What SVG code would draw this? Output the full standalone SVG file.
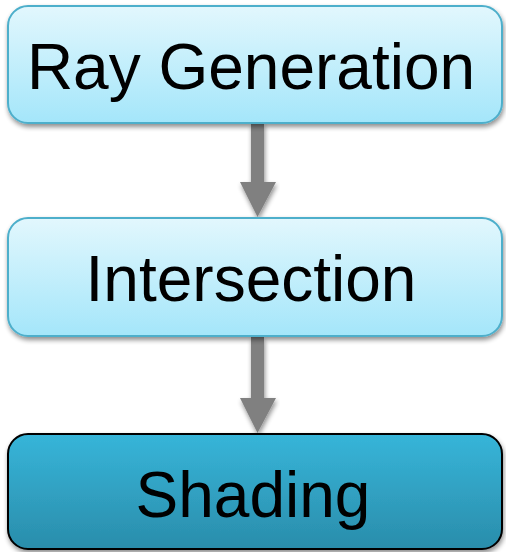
<svg xmlns="http://www.w3.org/2000/svg" width="506" height="552" viewBox="0 0 506 552">
  <defs>
    <linearGradient id="light" x1="0" y1="0" x2="0" y2="1">
      <stop offset="0" stop-color="#e2f7fd"/>
      <stop offset="1" stop-color="#a4e6fa"/>
    </linearGradient>
    <linearGradient id="dark" x1="0" y1="0" x2="0" y2="1">
      <stop offset="0" stop-color="#37b5d9"/>
      <stop offset="1" stop-color="#2a8dab"/>
    </linearGradient>
    <filter id="shadow" x="-10%" y="-10%" width="120%" height="130%">
      <feGaussianBlur in="SourceAlpha" stdDeviation="2.5"/>
      <feOffset dx="1" dy="3" result="b"/>
      <feComponentTransfer><feFuncA type="linear" slope="0.45"/></feComponentTransfer>
      <feMerge><feMergeNode/><feMergeNode in="SourceGraphic"/></feMerge>
    </filter>
  </defs>
  <style>
    .label { font-family: "Liberation Sans", Arial, sans-serif; font-size: 64px; fill: #000; text-anchor: middle; }
    .step { fill: url(#light); stroke: #4eafcb; stroke-width: 2; }
    .final { fill: url(#dark); stroke: #000; stroke-width: 2; }
    .arrow { fill: #808080; }
  </style>

  <g id="connectors" filter="url(#shadow)">
    <polygon class="arrow" points="251,123 264,123 264,182 276,182 257.5,217 240,182 251,182"/>
    <polygon class="arrow" points="251,337 264,337 264,398 276,398 257.5,433 240,398 251,398"/>
  </g>

  <g id="ray-generation" filter="url(#shadow)">
    <rect class="step" x="8" y="6" width="494" height="117" rx="20"/>
    <text class="label" x="251" y="89">Ray Generation</text>
  </g>

  <g id="intersection" filter="url(#shadow)">
    <rect class="step" x="8" y="218" width="494" height="118" rx="20"/>
    <text class="label" x="251" y="301">Intersection</text>
  </g>

  <g id="shading" filter="url(#shadow)">
    <rect class="final" x="8" y="434" width="494" height="115" rx="20"/>
    <text class="label" x="253" y="517">Shading</text>
  </g>
</svg>
